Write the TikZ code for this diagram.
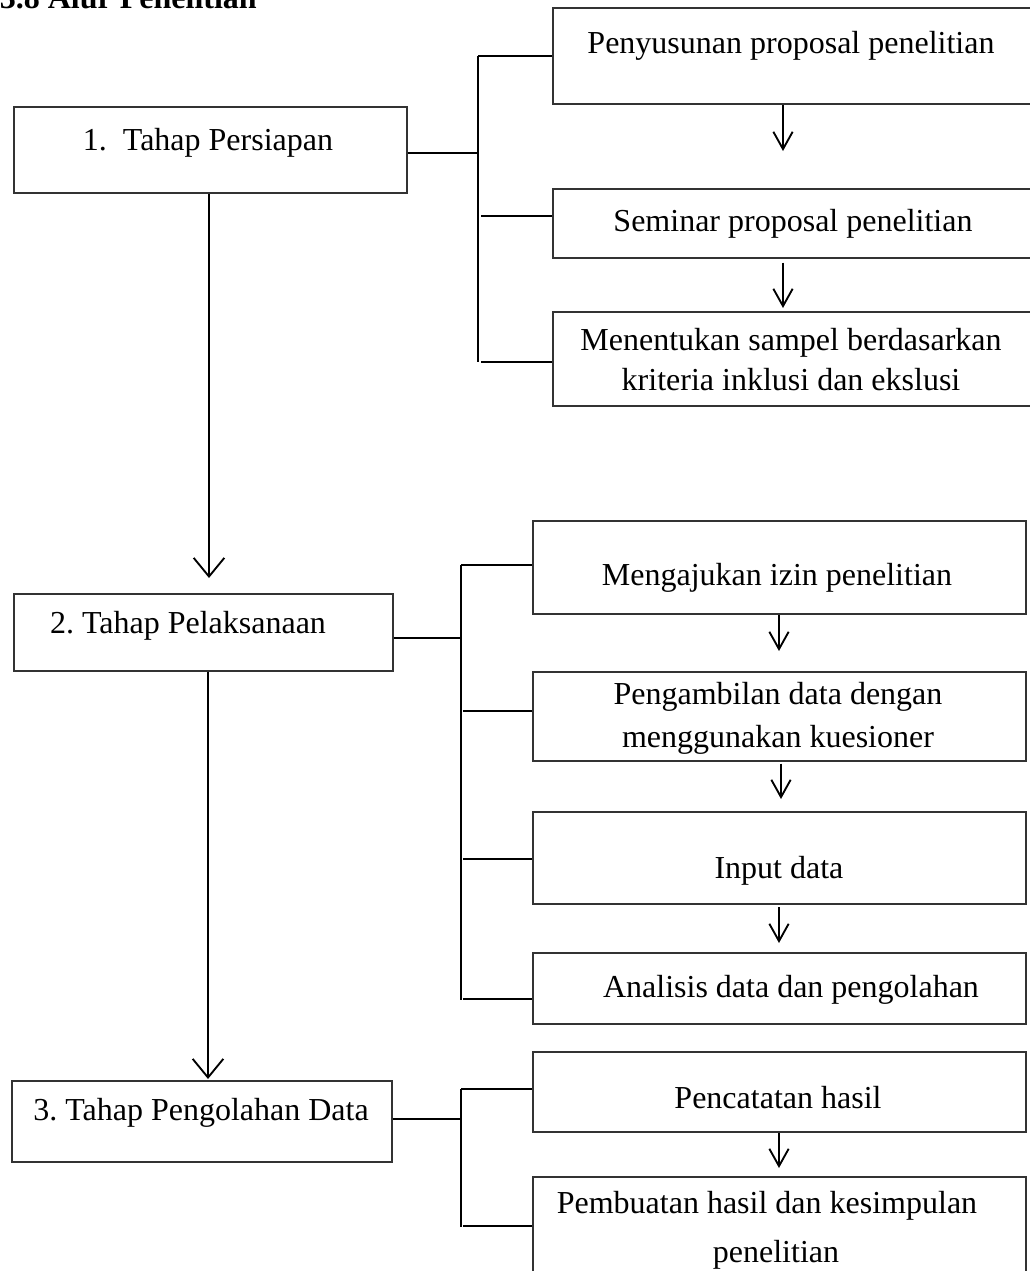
\documentclass[tikz,border=0pt]{standalone}
\usepackage{fontspec}
\setmainfont{Liberation Serif}
\usetikzlibrary{arrows.meta}
\frenchspacing
\begin{document}
\begin{tikzpicture}[x=0.75pt,y=-0.75pt,
  box/.style={draw=black!80, line width=1.1pt, inner sep=0pt, rectangle},
  txt/.style={anchor=base, inner sep=0pt, font=\fontsize{24}{30}\selectfont},
  conn/.style={line width=1.4pt, black},
  bigarr/.style={conn, -{Straight Barb[length=14pt, width=23pt, line width=1.4pt]}},
  smallarr/.style={conn, -{Straight Barb[length=13pt, width=14.5pt, line width=1.4pt]}}]
\clip (0,0) rectangle (1030,1271);
\fill[white] (0,0) rectangle (1030,1271);

% title
\node[anchor=base east, inner sep=0pt, font=\bfseries\fontsize{24}{30}\selectfont] (title) at (257,8) {3.8 Alur Penelitian};

% main stage boxes
\node[box, minimum width=294.75pt, minimum height=64.5pt] (p1) at (210.5,150) {};
\node[box, minimum width=284.25pt, minimum height=57.75pt] (p2) at (203.5,632.5) {};
\node[box, minimum width=285pt, minimum height=60.75pt] (p3) at (202,1121.5) {};
\node[txt] (p1t) at (208,150) {1.\ \ Tahap Persiapan};
\node[txt] (p2t) at (188,633) {2. Tahap Pelaksanaan};
\node[txt] (p3t) at (201,1120) {3. Tahap Pengolahan Data};

% section 1 boxes
\node[box, minimum width=365.25pt, minimum height=72pt] (A) at (796.5,56) {};
\node[box, minimum width=365.25pt, minimum height=51.75pt] (B) at (796.5,223.5) {};
\node[box, minimum width=365.25pt, minimum height=70.5pt] (C) at (796.5,359) {};
\node[txt] (At) at (791,53) {Penyusunan proposal penelitian};
\node[txt] (Bt) at (793,231) {Seminar proposal penelitian};
\node[txt] (Ct1) at (791,350) {Menentukan sampel berdasarkan};
\node[txt] (Ct2) at (791,390) {kriteria inklusi dan ekslusi};

% section 2 boxes
\node[box, minimum width=369.75pt, minimum height=69.75pt] (D) at (779.5,567.5) {};
\node[box, minimum width=369.75pt, minimum height=66.75pt] (E) at (779.5,716.5) {};
\node[box, minimum width=369.75pt, minimum height=69pt] (F) at (779.5,858) {};
\node[box, minimum width=369.75pt, minimum height=53.25pt] (G) at (779.5,988.5) {};
\node[txt] (Dt) at (777,585) {Mengajukan izin penelitian};
\node[txt] (Et1) at (778,704) {Pengambilan data dengan};
\node[txt] (Et2) at (778,747) {menggunakan kuesioner};
\node[txt] (Ft) at (779,878) {Input data};
\node[txt] (Gt) at (791,997) {Analisis data dan pengolahan};

% section 3 boxes
\node[box, minimum width=369.75pt, minimum height=60pt] (H) at (779.5,1092) {};
\node[box, minimum width=369.75pt, minimum height=84.75pt] (I) at (779.5,1233.5) {};
\node[txt] (Ht) at (778,1108) {Pencatatan hasil};
\node[txt] (It1) at (767,1213) {Pembuatan hasil dan kesimpulan};
\node[txt] (It2) at (776,1262) {penelitian};

% big arrows
\coordinate (tip12) at (209,578);
\draw[bigarr] (p1.south -| tip12) -- (tip12);
\coordinate (tip23) at (208,1079);
\draw[bigarr] (p2.south -| tip23) -- (tip23);

% small arrows
\coordinate (tAB) at (783,151);
\draw[smallarr] (A.south -| tAB) -- (tAB);
\coordinate (tBC) at (783,308);
\draw[smallarr, shorten <=3pt] (B.south -| tBC) -- (tBC);
\coordinate (tDE) at (779,651);
\draw[smallarr] (D.south -| tDE) -- (tDE);
\coordinate (tEF) at (781,799);
\draw[smallarr, shorten <=1.5pt] (E.south -| tEF) -- (tEF);
\coordinate (tFG) at (779,943);
\draw[smallarr, shorten <=2pt] (F.south -| tFG) -- (tFG);
\coordinate (tHI) at (779,1168);
\draw[smallarr] (H.south -| tHI) -- (tHI);

% bracket 1
\coordinate (k1t) at (478,56);
\coordinate (k1b) at (478,362);
\coordinate (k1m) at (478,153);
\draw[conn] (k1t) -- (k1b);
\draw[conn] (p1.east |- k1m) -- (k1m);
\draw[conn] (k1t) -- (A.west |- k1t);
\coordinate (k1s2) at (481,216);
\draw[conn] (k1s2) -- (B.west |- k1s2);
\coordinate (k1s3) at (481,362);
\draw[conn] (k1s3) -- (C.west |- k1s3);

% bracket 2
\coordinate (k2t) at (461,565);
\coordinate (k2b) at (461,1000);
\coordinate (k2m) at (461,638);
\draw[conn] (k2t) -- (k2b);
\draw[conn] (p2.east |- k2m) -- (k2m);
\draw[conn] (k2t) -- (D.west |- k2t);
\coordinate (k2s2) at (463,711);
\draw[conn] (k2s2) -- (E.west |- k2s2);
\coordinate (k2s3) at (463,859);
\draw[conn] (k2s3) -- (F.west |- k2s3);
\coordinate (k2s4) at (463,999);
\draw[conn] (k2s4) -- (G.west |- k2s4);

% bracket 3
\coordinate (k3t) at (461,1089);
\coordinate (k3b) at (461,1227);
\coordinate (k3m) at (461,1119);
\draw[conn] (k3t) -- (k3b);
\draw[conn] (p3.east |- k3m) -- (k3m);
\draw[conn] (k3t) -- (H.west |- k3t);
\coordinate (k3s2) at (463,1226);
\draw[conn] (k3s2) -- (I.west |- k3s2);
\end{tikzpicture}
\end{document}
